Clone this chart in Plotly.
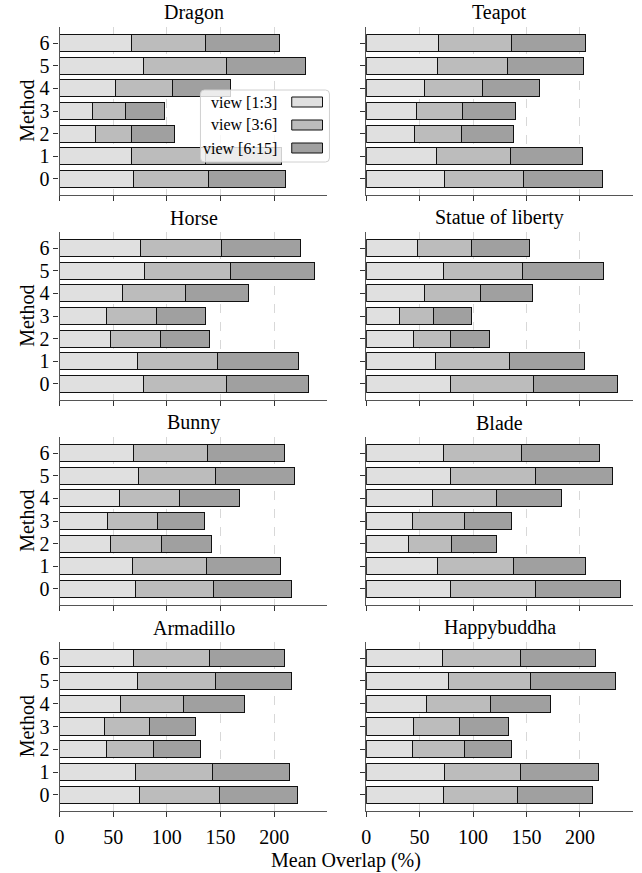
import plotly.graph_objects as go

W, H = 642, 873

methods = [0, 1, 2, 3, 4, 5, 6]
objects = ["Dragon", "Teapot", "Horse", "Statue of liberty",
           "Bunny", "Blade", "Armadillo", "Happybuddha"]
view_names = ["view [1:3]", "view [3:6]", "view [6:15]"]
view_colors = ["#e0e0e0", "#bcbcbc", "#a0a0a0"]

# per object, values for methods 0..6
view_1_3 = [
    [68.5, 66.7, 33.8, 30.4, 51.8, 78.4, 66.7],   # Dragon
    [73.7, 65.6, 44.9, 46.7, 54.5, 66.6, 68.1],   # Teapot
    [78.4, 72.9, 47.1, 44.0, 58.3, 79.4, 75.7],   # Horse
    [79.3, 64.4, 44.3, 31.6, 54.2, 72.8, 48.3],   # Statue of liberty
    [70.7, 67.9, 47.1, 44.3, 56.1, 73.2, 68.8],   # Bunny
    [79.3, 66.3, 39.9, 43.3, 61.6, 79.3, 72.4],   # Blade
    [74.6, 70.4, 43.7, 41.6, 56.4, 72.2, 68.8],   # Armadillo
    [72.6, 73.4, 43.0, 44.6, 56.7, 77.1, 71.2],   # Happybuddha
]
view_3_6 = [
    [70.1, 69.1, 32.9, 31.0, 53.6, 77.6, 69.4],
    [73.4, 69.1, 44.3, 43.7, 54.5, 65.6, 68.1],
    [76.9, 74.7, 47.2, 46.2, 59.2, 79.7, 75.0],
    [77.0, 69.7, 35.0, 31.6, 52.3, 73.6, 49.8],
    [73.2, 68.8, 47.5, 47.2, 55.8, 72.5, 69.5],
    [78.9, 71.5, 39.7, 48.6, 60.4, 79.5, 72.8],
    [74.6, 72.5, 43.4, 41.8, 58.9, 72.9, 71.4],
    [68.8, 70.6, 48.9, 43.0, 59.4, 76.5, 72.8],
]
view_6_15 = [
    [72.3, 70.7, 40.0, 36.6, 53.7, 72.8, 68.9],
    [74.3, 67.8, 48.3, 49.5, 53.5, 71.5, 68.8],
    [76.3, 75.4, 45.9, 45.9, 58.6, 78.4, 73.8],
    [78.4, 70.2, 36.5, 35.6, 49.5, 75.6, 54.5],
    [72.2, 69.5, 47.1, 44.0, 56.2, 73.2, 71.6],
    [79.6, 67.8, 42.4, 44.0, 60.4, 71.5, 73.1],
    [72.4, 71.4, 44.4, 43.4, 57.4, 71.0, 69.1],
    [70.8, 73.3, 44.3, 45.2, 56.7, 79.5, 70.6],
]
x_ticks = [0, 50, 100, 150, 200]

FONT = "Liberation Serif, Times New Roman, serif"

# panel geometry in pixels
col_x = [(55, 325), (364, 633)]
row_y = [(27, 195), (232, 400), (437, 605), (642, 811)]

def px_x(p):
    return p / W

def px_y(p):
    return 1 - p / H

fig = go.Figure()
layout = dict(
    width=W, height=H,
    margin=dict(l=0, r=0, t=0, b=0),
    paper_bgcolor="white", plot_bgcolor="white",
    barmode="stack", bargap=0.25, showlegend=False,
    font=dict(family=FONT, size=20, color="black"),
)
annotations = []
shapes = []

series = [view_1_3, view_3_6, view_6_15]

for i, obj in enumerate(objects):
    r, c = divmod(i, 2)
    k = i + 1
    xa = "x" if k == 1 else f"x{k}"
    ya = "y" if k == 1 else f"y{k}"
    for v in range(3):
        fig.add_trace(go.Bar(
            y=methods, x=series[v][i], orientation="h",
            name=view_names[v], width=0.75,
            marker=dict(color=view_colors[v], line=dict(color="#111111", width=1)),
            xaxis=xa, yaxis=ya, hoverinfo="x+y",
        ))
    x0, x1 = col_x[c]
    yt, yb = row_y[r]
    layout["xaxis" if k == 1 else f"xaxis{k}"] = dict(
        domain=[px_x(x0), px_x(x1)], anchor=ya, range=[0, 249.7],
        tickvals=x_ticks, showticklabels=(r == 3),
        ticks="outside", ticklen=5, tickwidth=1, tickcolor="#333333",
        ticklabelstandoff=3,
        showline=True, linecolor="#555555", linewidth=1.3,
        showgrid=True, gridcolor="#d8d8d8", griddash="dash", gridwidth=1,
        zeroline=False, tickfont=dict(size=20, family=FONT),
    )
    layout["yaxis" if k == 1 else f"yaxis{k}"] = dict(
        domain=[px_y(yb), px_y(yt)], anchor=xa, range=[-0.7125, 6.7125],
        tickvals=methods, showticklabels=(c == 0),
        ticks="outside", ticklen=5, tickwidth=1, tickcolor="#333333",
        showline=True, linecolor="#555555", linewidth=1.3,
        showgrid=False, zeroline=False, tickfont=dict(size=20, family=FONT),
    )
    annotations.append(dict(
        text=obj, xref="paper", yref="paper",
        x=px_x((x0 + x1) / 2), y=px_y(yt - 1), xanchor="center", yanchor="bottom",
        showarrow=False, font=dict(size=20, family=FONT),
    ))
    if c == 0:
        annotations.append(dict(
            text="Method", xref="paper", yref="paper",
            x=px_x(22), y=px_y((yt + yb) / 2), xanchor="center", yanchor="middle",
            textangle=-90, showarrow=False, font=dict(size=20, family=FONT),
        ))

annotations.append(dict(
    text="Mean Overlap (%)", xref="paper", yref="paper",
    x=px_x((55 + 633) / 2), y=px_y(860), xanchor="center", yanchor="middle",
    showarrow=False, font=dict(size=20, family=FONT),
))

# custom legend (text before markers) in the Dragon panel
lx0, lx1, ly0, ly1, rad = 197, 327, 90, 162, 4
path = (f"M {px_x(lx0 + rad)},{px_y(ly0)} L {px_x(lx1 - rad)},{px_y(ly0)} "
        f"Q {px_x(lx1)},{px_y(ly0)} {px_x(lx1)},{px_y(ly0 + rad)} "
        f"L {px_x(lx1)},{px_y(ly1 - rad)} Q {px_x(lx1)},{px_y(ly1)} {px_x(lx1 - rad)},{px_y(ly1)} "
        f"L {px_x(lx0 + rad)},{px_y(ly1)} Q {px_x(lx0)},{px_y(ly1)} {px_x(lx0)},{px_y(ly1 - rad)} "
        f"L {px_x(lx0)},{px_y(ly0 + rad)} Q {px_x(lx0)},{px_y(ly0)} {px_x(lx0 + rad)},{px_y(ly0)} Z")
shapes.append(dict(type="path", path=path, xref="paper", yref="paper",
                   fillcolor="rgba(255,255,255,0.8)", line=dict(color="#d0d0d0", width=1),
                   layer="above"))
for v, cy in enumerate([102, 125, 148]):
    shapes.append(dict(type="rect", xref="paper", yref="paper",
                       x0=px_x(289), x1=px_x(320), y0=px_y(cy + 5), y1=px_y(cy - 5),
                       fillcolor=view_colors[v], line=dict(color="#111111", width=1),
                       layer="above"))
    annotations.append(dict(
        text=view_names[v], xref="paper", yref="paper",
        x=px_x(276), y=px_y(cy), xanchor="right", yanchor="middle",
        showarrow=False, font=dict(size=16, family=FONT),
    ))

layout["annotations"] = annotations
layout["shapes"] = shapes
fig.update_layout(**layout)
fig.write_html(
    "out.html",
    config={"displayModeBar": False},
    post_script="document.body.style.margin='0';document.body.style.overflow='hidden';",
)
